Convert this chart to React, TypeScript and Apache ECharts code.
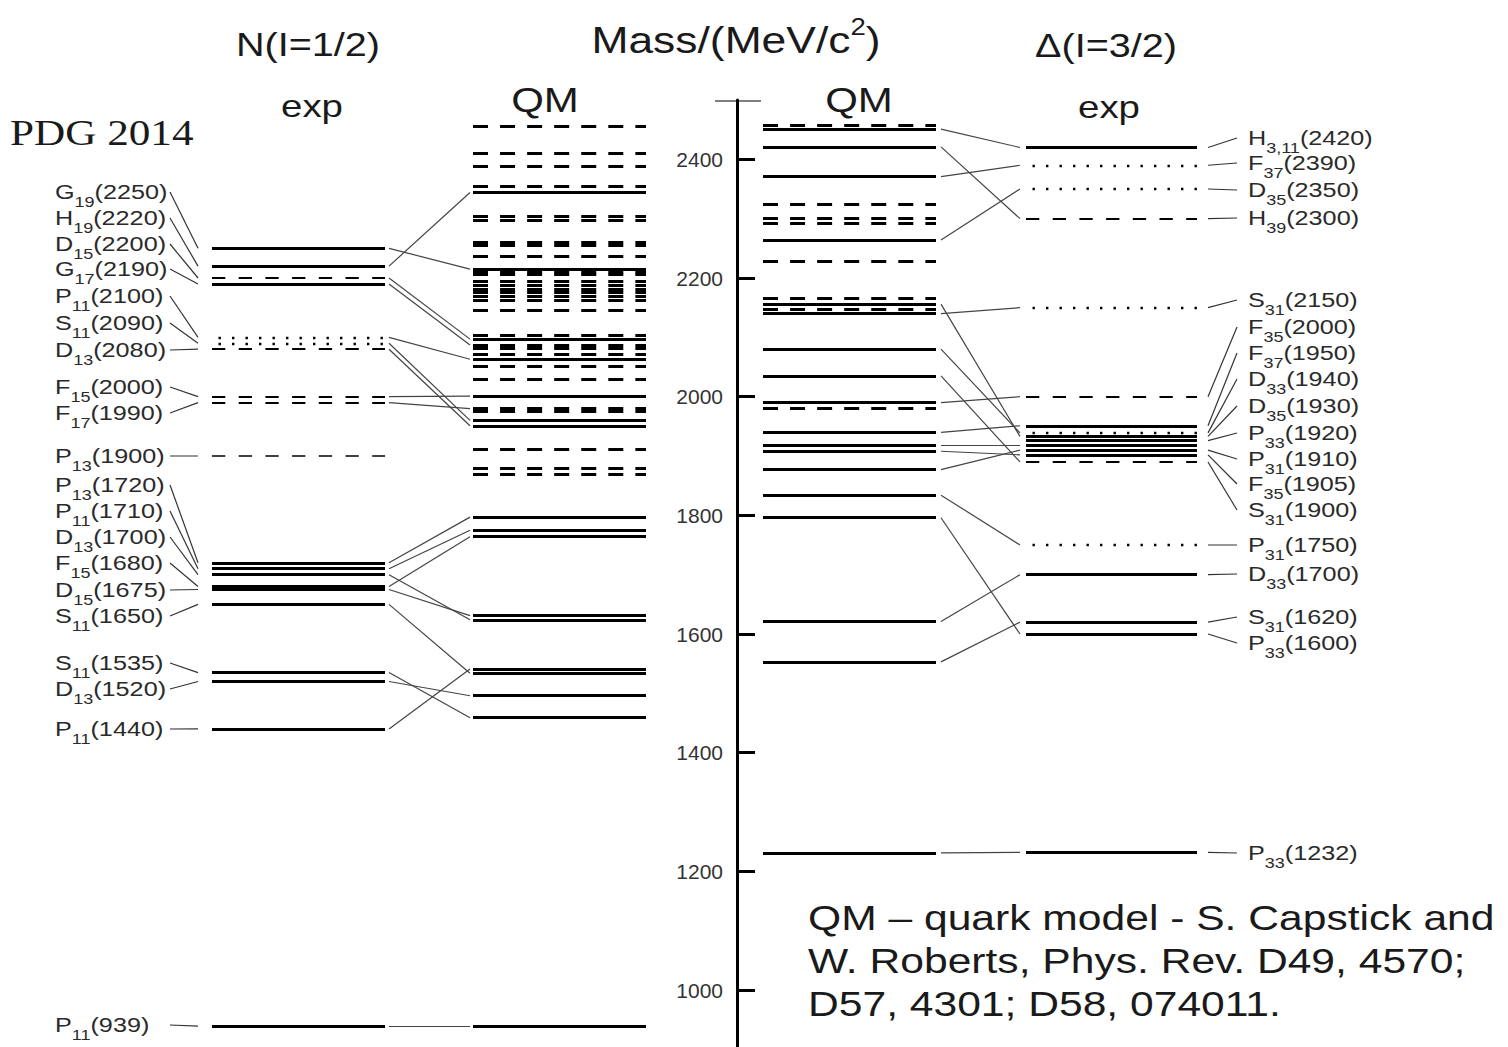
import React, { useEffect, useRef } from "react";
import * as echarts from "echarts";

const W = 1508;
const H = 1047;
const SANS = '"Liberation Sans", Arial, Helvetica, sans-serif';
const SERIF = '"Liberation Serif", "Times New Roman", serif';

// ---------- Nucleon N(I=1/2), experiment (PDG 2014)
const N_EXP_WAVE = ["G", "H", "D", "G", "P", "S", "D", "F", "F", "P", "P", "P", "D", "F", "D", "S", "S", "D", "P", "P"];
const N_EXP_SUB = ["19", "19", "15", "17", "11", "11", "13", "15", "17", "13", "13", "11", "13", "15", "15", "11", "11", "13", "11", "11"];
const N_EXP_MASS = [2250, 2220, 2200, 2190, 2100, 2090, 2080, 2000, 1990, 1900, 1720, 1710, 1700, 1680, 1675, 1650, 1535, 1520, 1440, 939];
const N_EXP_KIND = ["solid", "solid", "dashed", "solid", "dotted", "dotted", "dashed", "dashed", "dashed", "thin", "solid", "solid", "solid", "solid", "solid", "solid", "solid", "solid", "solid", "solid"];

// ---------- Nucleon, quark model
const N_QM_MASS = [2456, 2411, 2389, 2355, 2344, 2304, 2298, 2261, 2256, 2236, 2215, 2210, 2206, 2194, 2188, 2181, 2176, 2169, 2163, 2145, 2104, 2097, 2087, 2082, 2071, 2063, 2052, 2030, 2001, 1980, 1975, 1960, 1951, 1911, 1879, 1870, 1797, 1775, 1764, 1631, 1624, 1541, 1534, 1496, 1459, 939];
const N_QM_KIND = ["dashed", "dashed", "dashed", "dashed", "solid", "dashed", "dashed", "dashed", "dashed", "dashed", "solid", "dashed", "dashed", "dashed", "dashed", "dashed", "dashed", "dashed", "dashed", "dashed", "dashed", "solid", "dashed", "dashed", "dashed", "solid", "dashed", "dashed", "solid", "dashed", "dashed", "solid", "solid", "dashed", "dashed", "dashed", "solid", "solid", "solid", "solid", "solid", "solid", "solid", "solid", "solid", "solid"];

// ---------- Nucleon links: experiment level -> quark model level
const N_LINK_EXP = [2250, 2220, 2200, 2190, 2100, 2090, 2080, 2000, 1990, 1720, 1710, 1680, 1700, 1675, 1650, 1535, 1520, 1440, 939];
const N_LINK_QM = [2215, 2344, 2097, 2087, 2063, 1960, 1951, 2001, 1980, 1797, 1775, 1764, 1624, 1631, 1534, 1459, 1496, 1541, 939];

// ---------- Delta(I=3/2), quark model
const D_QM_MASS = [2458, 2451, 2421, 2371, 2325, 2301, 2292, 2264, 2229, 2166, 2156, 2148, 2140, 2080, 2035, 1990, 1980, 1940, 1918, 1908, 1877, 1834, 1796, 1621, 1553, 1231];
const D_QM_KIND = ["dashed", "solid", "solid", "solid", "dashed", "dashed", "dashed", "solid", "dashed", "dashed", "solid", "dashed", "solid", "solid", "solid", "solid", "dashed", "solid", "solid", "solid", "solid", "solid", "solid", "solid", "solid", "solid"];

// ---------- Delta, experiment (PDG 2014)
const D_EXP_WAVE = ["H", "F", "D", "H", "S", "F", "F", "D", "D", "P", "P", "F", "S", "P", "D", "S", "P", "P"];
const D_EXP_SUB = ["3,11", "37", "35", "39", "31", "35", "37", "33", "35", "33", "31", "35", "31", "31", "33", "31", "33", "33"];
const D_EXP_MASS = [2420, 2390, 2350, 2300, 2150, 2000, 1950, 1940, 1930, 1920, 1910, 1905, 1900, 1750, 1700, 1620, 1600, 1232];
const D_EXP_POS = [2420, 2390, 2350, 2300, 2150, 2000, 1951, 1939, 1933, 1926, 1910, 1902, 1890, 1750, 1700, 1620, 1600, 1232];
const D_EXP_KIND = ["solid", "dotted", "dotted", "dashed", "dotted", "dashed", "solid", "dotted", "solid", "solid", "solid", "solid", "dashed", "dotted", "solid", "solid", "solid", "solid"];
const D_EXP_EXTRA_POS = [1918];
const D_EXP_EXTRA_KIND = ["solid"];

// ---------- Delta links: quark model level -> experiment level
const D_LINK_QM = [2451, 2421, 2371, 2264, 2140, 2156, 2080, 2035, 1990, 1940, 1918, 1908, 1877, 1834, 1796, 1621, 1553, 1231];
const D_LINK_EXP = [2420, 2300, 2390, 2350, 2150, 1933, 1939, 1890, 2000, 1951, 1918, 1902, 1910, 1750, 1600, 1700, 1620, 1232];

// ---------- axis
const Y_MIN = 800;
const Y_MAX = 2500;
const Y_INTERVAL = 200;

// ---------- layout (pixels)
const COL_N_EXP = [212, 385];
const COL_N_QM = [473, 646];
const COL_D_QM = [763, 936];
const COL_D_EXP = [1026, 1197];
const N_LINK_X = [389, 470];
const D_LINK_X = [941, 1020];
const AXIS_X = 737;
const LEFT_LABEL_X = 55;
const LEFT_LEADER_X = [170, 198];
const RIGHT_LABEL_X = 1248;
const RIGHT_LEADER_X = [1208, 1237];
const LEFT_LABEL_Y = [192, 218, 244, 269, 296, 323, 350, 387, 413, 456, 485, 511, 537, 563, 590, 616, 663, 689, 729, 1025];
const RIGHT_LABEL_Y = [138, 163, 190, 218, 300, 327, 353, 379, 406, 433, 459, 484, 510, 545, 574, 617, 643, 853];
const SX = 1.2;

function levelStyle(kind: string, qm: boolean) {
  const base = { color: "#000", opacity: 1, cap: "butt" };
  if (kind === "solid") return { ...base, width: 3, type: "solid" };
  if (kind === "dashed") return qm ? { ...base, width: 3, type: [15, 12.06] } : { ...base, width: 2, type: [13.3, 13.4] };
  if (kind === "thin") return { ...base, width: 1.6, type: [13.3, 13.4] };
  return { ...base, width: 2.4, type: [2.4, 11.1], dashOffset: 6.5 };
}

function level(col: number[], m: number, kind: string, qm: boolean) {
  return { coords: [[col[0], m], [col[1], m]], lineStyle: levelStyle(kind, qm) };
}

function buildOption() {
  const levels: any[] = [];
  N_EXP_MASS.forEach((m, i) => levels.push(level(COL_N_EXP, m, N_EXP_KIND[i], false)));
  N_QM_MASS.forEach((m, i) => levels.push(level(COL_N_QM, m, N_QM_KIND[i], true)));
  D_QM_MASS.forEach((m, i) => levels.push(level(COL_D_QM, m, D_QM_KIND[i], true)));
  D_EXP_POS.forEach((m, i) => levels.push(level(COL_D_EXP, m, D_EXP_KIND[i], false)));
  D_EXP_EXTRA_POS.forEach((m, i) => levels.push(level(COL_D_EXP, m, D_EXP_EXTRA_KIND[i], false)));
  // axis top cap
  levels.push({ coords: [[AXIS_X - 22, Y_MAX], [AXIS_X + 24, Y_MAX]], lineStyle: { color: "#000", width: 3, type: "solid" } });

  const links: any[] = [];
  N_LINK_EXP.forEach((m, i) => links.push({ coords: [[N_LINK_X[0], m], [N_LINK_X[1], N_LINK_QM[i]]] }));
  D_LINK_QM.forEach((m, i) => links.push({ coords: [[D_LINK_X[0], m], [D_LINK_X[1], D_LINK_EXP[i]]] }));

  return {
    animation: false,
    grid: { left: 0, right: 0, top: 100, bottom: -61.7, containLabel: false, outerBoundsMode: "none" },
    xAxis: { type: "value", min: 0, max: W, show: false, splitLine: { show: false } },
    yAxis: {
      type: "value",
      min: Y_MIN,
      max: Y_MAX,
      interval: Y_INTERVAL,
      position: "left",
      offset: -AXIS_X,
      axisLine: { show: true, onZero: false, lineStyle: { color: "#000", width: 3 } },
      axisTick: { show: true, inside: true, length: 18, lineStyle: { color: "#000", width: 3 } },
      axisLabel: {
        show: true,
        margin: 14,
        fontSize: 21,
        color: "#333",
        fontFamily: SANS,
        showMinLabel: false,
        showMaxLabel: false,
        formatter: (v: number) => String(v),
      },
      splitLine: { show: false },
    },
    series: [
      { type: "lines", coordinateSystem: "cartesian2d", silent: true, z: 2, lineStyle: { color: "#444", width: 1.2, opacity: 1 }, data: links },
      { type: "lines", coordinateSystem: "cartesian2d", silent: true, z: 3, data: levels },
    ],
  };
}

const LABEL_RICH = {
  m: { fontSize: 21, fontFamily: SANS, fill: "#2a2a2a", lineHeight: 36, verticalAlign: "middle" },
  s: { fontSize: 15, fontFamily: SANS, fill: "#2a2a2a", lineHeight: 15, verticalAlign: "bottom" },
};

function richText(x: number, y: number, text: string, rich: any, align: string, sx = SX) {
  return {
    type: "text",
    x,
    y,
    scaleX: sx,
    silent: true,
    z: 10,
    style: { text, rich, align, verticalAlign: "middle", textAlign: align, textVerticalAlign: "middle", fill: "#222" },
  };
}

function plainText(x: number, y: number, text: string, size: number, family: string, align: string, sx = SX) {
  return {
    type: "text",
    x,
    y,
    scaleX: sx,
    silent: true,
    z: 10,
    style: {
      text,
      fontSize: size,
      fontFamily: family,
      fill: "#1a1a1a",
      align,
      verticalAlign: "middle",
      textAlign: align,
      textVerticalAlign: "middle",
    },
  };
}

function seg(x1: number, y1: number, x2: number, y2: number) {
  return { type: "line", silent: true, z: 9, shape: { x1, y1, x2, y2 }, style: { stroke: "#333", lineWidth: 1.2 } };
}

function buildGraphic(chart: any) {
  const yOf = (m: number) => chart.convertToPixel({ gridIndex: 0 }, [0, m])[1];
  const els: any[] = [];
  N_EXP_MASS.forEach((m, i) => {
    els.push(richText(LEFT_LABEL_X, LEFT_LABEL_Y[i], `{m|${N_EXP_WAVE[i]}}{s|${N_EXP_SUB[i]}}{m|(${m})}`, LABEL_RICH, "left"));
    els.push(seg(LEFT_LEADER_X[0], LEFT_LABEL_Y[i], LEFT_LEADER_X[1], yOf(m)));
  });
  D_EXP_MASS.forEach((m, i) => {
    els.push(richText(RIGHT_LABEL_X, RIGHT_LABEL_Y[i], `{m|${D_EXP_WAVE[i]}}{s|${D_EXP_SUB[i]}}{m|(${m})}`, LABEL_RICH, "left"));
    els.push(seg(RIGHT_LEADER_X[0], yOf(D_EXP_POS[i]), RIGHT_LEADER_X[1], RIGHT_LABEL_Y[i]));
  });
  // titles
  els.push(plainText(308, 45, "N(I=1/2)", 33, SANS, "center"));
  els.push(
    richText(736, 40, "{m|Mass/(MeV/c}{u|2}{m|)}", {
      m: { fontSize: 37, fontFamily: SANS, fill: "#1a1a1a", lineHeight: 50, verticalAlign: "middle" },
      u: { fontSize: 23, fontFamily: SANS, fill: "#1a1a1a", lineHeight: 24, verticalAlign: "top" },
    }, "center")
  );
  els.push(plainText(1106, 46, "Δ(I=3/2)", 33, SANS, "center"));
  els.push(plainText(312, 106, "exp", 32, SANS, "center"));
  els.push(plainText(545, 100, "QM", 35, SANS, "center"));
  els.push(plainText(859, 100, "QM", 35, SANS, "center"));
  els.push(plainText(1109, 107, "exp", 32, SANS, "center"));
  els.push(plainText(10, 133, "PDG 2014", 36, SERIF, "left"));
  els.push(plainText(808, 918, "QM – quark model - S. Capstick and", 35.5, SANS, "left"));
  els.push(plainText(808, 961, "W. Roberts, Phys. Rev. D49, 4570;", 35.5, SANS, "left"));
  els.push(plainText(808, 1004, "D57, 4301; D58, 074011.", 35.5, SANS, "left"));
  return els;
}

export default function App() {
  const ref = useRef<HTMLDivElement>(null);
  useEffect(() => {
    const el = ref.current;
    if (!el) return;
    const chart = echarts.init(el, null, { renderer: "svg", width: W, height: H });
    chart.setOption(buildOption() as any);
    chart.setOption({ graphic: { elements: buildGraphic(chart) } } as any);
    return () => chart.dispose();
  }, []);
  return <div ref={ref} style={{ position: "fixed", left: 0, top: 0, width: W, height: H, background: "#fff" }} />;
}
